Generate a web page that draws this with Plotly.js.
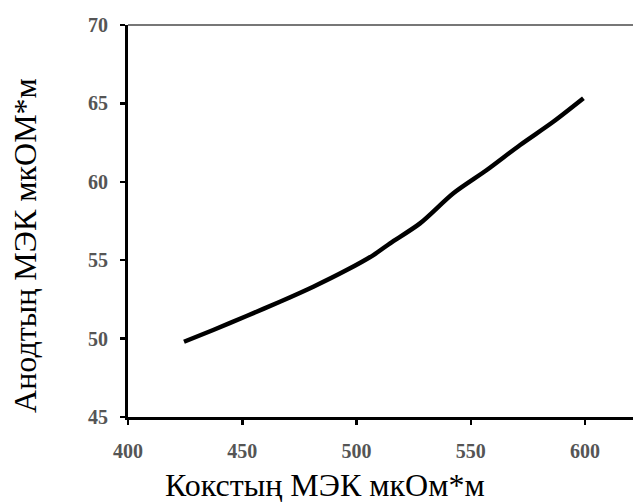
<!DOCTYPE html>
<html>
<head>
<meta charset="utf-8">
<script src="https://cdn.plot.ly/plotly-3.0.1.min.js"></script>
<style>html,body{margin:0;padding:0;background:#fff;}#chart{width:633px;height:503px;}</style>
</head>
<body>
<div id="chart"></div>
<script>
var cokeMEK = [424.5, 437.3, 451.9, 466.5, 481.1, 495.7, 507.4, 514.7, 527.8, 542.4, 557.0, 571.6, 586.1, 599.3];
var anodeMEK = [49.8, 50.55, 51.44, 52.35, 53.31, 54.37, 55.33, 56.08, 57.35, 59.27, 60.75, 62.35, 63.83, 65.33];
var xTicks = [400, 450, 500, 550, 600];
var yTicks = [45, 50, 55, 60, 65, 70];
var xTitle = 'Кокстың МЭК мкОм*м';
var yTitle = 'Анодтың МЭК мкОМ*м';

var trace = {
  x: cokeMEK, y: anodeMEK, type: 'scatter', mode: 'lines',
  line: {color: '#000', width: 4.5, shape: 'spline', smoothing: 0.8},
  hoverinfo: 'skip'
};
var tickFont = {family: '"Liberation Serif", "DejaVu Serif", serif', size: 20, color: '#555', weight: 'bold'};
var titleFont = {family: '"Liberation Serif", serif', size: 32, color: '#000'};
var layout = {
  width: 633, height: 503,
  margin: {l: 128, r: 0, t: 25, b: 86},
  paper_bgcolor: '#fff', plot_bgcolor: '#fff',
  showlegend: false,
  xaxis: {
    range: [400, 621], tickvals: xTicks, ticktext: xTicks.map(String),
    showgrid: false, zeroline: false, showline: true, linecolor: '#000', linewidth: 3,
    ticks: 'outside', ticklen: 5, tickwidth: 2.5, tickcolor: '#000',
    tickfont: tickFont, ticklabelstandoff: 9
  },
  yaxis: {
    range: [45, 70], tickvals: yTicks, ticktext: yTicks.map(String),
    showgrid: false, zeroline: false, showline: true, linecolor: '#000', linewidth: 3,
    ticks: 'outside', ticklen: 5, tickwidth: 2.5, tickcolor: '#000',
    tickfont: tickFont, ticklabelstandoff: 8
  },
  annotations: [
    {text: xTitle, xref: 'paper', yref: 'paper', x: 0.390, y: -0.174, xanchor: 'center', yanchor: 'middle', showarrow: false, font: titleFont},
    {text: yTitle, xref: 'paper', yref: 'paper', x: -0.204, y: 0.439, xanchor: 'center', yanchor: 'middle', textangle: -90, showarrow: false, font: titleFont}
  ],
  shapes: [{type: 'line', xref: 'paper', yref: 'paper', x0: 0, x1: 1, y0: 1, y1: 1, line: {color: '#777', width: 2}}]
};
Plotly.newPlot('chart', [trace], layout, {staticPlot: true, displayModeBar: false});
</script>
</body>
</html>
